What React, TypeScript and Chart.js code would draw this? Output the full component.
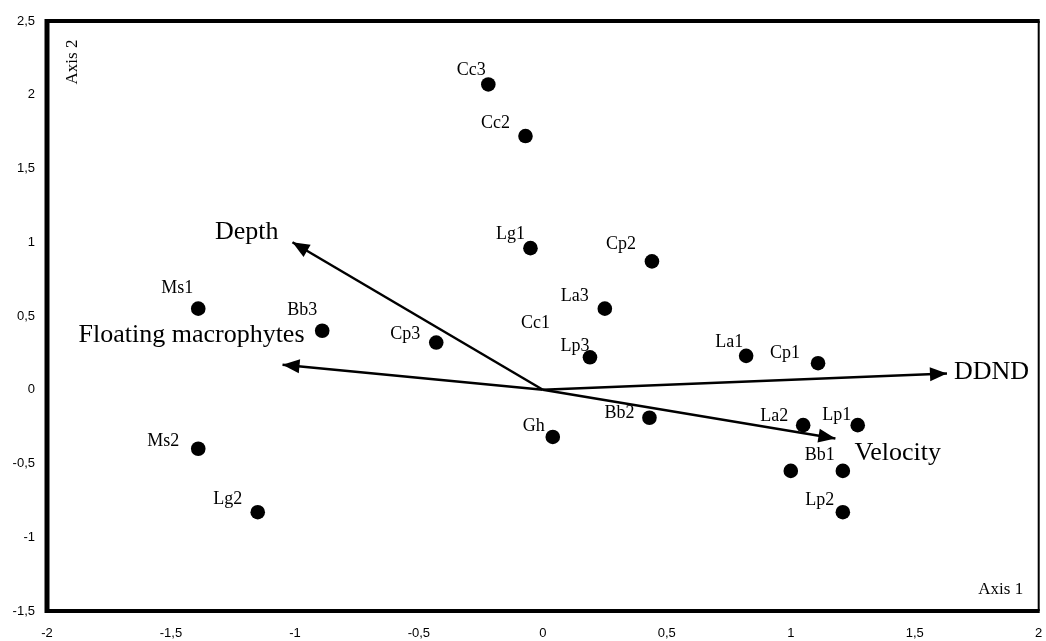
import React, { useEffect, useRef } from 'react';
import { Chart, registerables } from 'chart.js';

Chart.register(...registerables);

// Site scores (Axis 1, Axis 2)
const siteNames = ['Cc3', 'Cc2', 'Lg1', 'Cp2', 'La3', 'Cc1', 'Lp3', 'Ms1', 'Bb3', 'Cp3', 'La1', 'Cp1', 'La2', 'Lp1', 'Bb2', 'Gh', 'Ms2', 'Lg2', '', 'Bb1', 'Lp2'];
const siteAxis1 = [-0.22, -0.07, -0.05, 0.44, 0.25, -0.03, 0.19, -1.39, -0.89, -0.43, 0.82, 1.11, 1.05, 1.27, 0.43, 0.04, -1.39, -1.15, 1.0, 1.21, 1.21];
const siteAxis2 = [2.07, 1.72, 0.96, 0.87, 0.55, 0.45, 0.22, 0.55, 0.40, 0.32, 0.23, 0.18, -0.24, -0.24, -0.19, -0.32, -0.40, -0.83, -0.55, -0.55, -0.83];
// sites whose marker is not visible
const hiddenMarkers = ['Cc1'];
// label offsets from marker (px)
const siteLabelDx = [-17, -30, -20, -31, -30, 0, -15, -21, -20, -31, -17, -33, -29, -21, -30, -19, -35, -30, 0, -23, -23];
const siteLabelDy = [-14, -13, -14, -17, -12, 0, -11, -20, -20, -8, -14, -10, -9, -10, -5, -11, -7, -13, 0, -16, -12];

// Environmental variable vectors
const variableNames = ['Depth', 'Floating macrophytes', 'DDND', 'Velocity'];
const variableAxis1 = [-1.01, -1.05, 1.63, 1.18];
const variableAxis2 = [1.0, 0.17, 0.11, -0.33];
const variableLabelAlign: CanvasTextAlign[] = ['right', 'right', 'left', 'left'];
const variableLabelDx = [-14, 22, 7, 19];
const variableLabelDy = [-10, -30, -1, 15];

const xMin = -2, xMax = 2, yMin = -1.5, yMax = 2.5, tickStep = 0.5;

const fmt = (v: number) => String(Math.round(v * 100) / 100).replace('.', ',');

export default function App() {
  const ref = useRef<HTMLCanvasElement>(null);

  useEffect(() => {
    if (!ref.current) return;
    const siteData = siteNames.map((n, i) => ({ x: siteAxis1[i], y: siteAxis2[i] }));
    const vectorSets = variableNames.map((n, i) => ({
      type: 'line' as const,
      label: n,
      data: [{ x: 0, y: 0 }, { x: variableAxis1[i], y: variableAxis2[i] }],
      borderColor: '#000',
      borderWidth: 2.5,
      pointRadius: 0,
      showLine: true,
      fill: false,
      order: 2,
    }));

    const overlay = {
      id: 'overlay',
      afterDatasetsDraw(chart: any) {
        const ctx = chart.ctx as CanvasRenderingContext2D;
        const xs = chart.scales.x, ys = chart.scales.y;
        const ca = chart.chartArea;
        ctx.save();
        // arrowheads + variable labels
        variableNames.forEach((n, i) => {
          const x0 = xs.getPixelForValue(0), y0 = ys.getPixelForValue(0);
          const x1 = xs.getPixelForValue(variableAxis1[i]), y1 = ys.getPixelForValue(variableAxis2[i]);
          const ang = Math.atan2(y1 - y0, x1 - x0);
          const L = 17, W = 7;
          ctx.fillStyle = '#000';
          ctx.beginPath();
          ctx.moveTo(x1, y1);
          ctx.lineTo(x1 - L * Math.cos(ang) - W * Math.sin(ang), y1 - L * Math.sin(ang) + W * Math.cos(ang));
          ctx.lineTo(x1 - L * Math.cos(ang) + W * Math.sin(ang), y1 - L * Math.sin(ang) - W * Math.cos(ang));
          ctx.closePath();
          ctx.fill();
          ctx.font = '26px "Liberation Serif", "Times New Roman", serif';
          ctx.textAlign = variableLabelAlign[i];
          ctx.textBaseline = 'middle';
          ctx.fillText(n, x1 + variableLabelDx[i], y1 + variableLabelDy[i]);
        });
        // site labels
        ctx.font = '18px "Liberation Serif", "Times New Roman", serif';
        ctx.textAlign = 'center';
        ctx.textBaseline = 'middle';
        ctx.fillStyle = '#000';
        siteNames.forEach((n, i) => {
          if (!n) return;
          const px = xs.getPixelForValue(siteAxis1[i]);
          const py = ys.getPixelForValue(siteAxis2[i]);
          ctx.fillText(n, px + siteLabelDx[i], py + siteLabelDy[i]);
        });
        // axis titles
        ctx.font = '17px "Liberation Serif", "Times New Roman", serif';
        ctx.textAlign = 'center';
        ctx.fillText('Axis 1', ca.right - 38, ca.bottom - 21);
        ctx.save();
        ctx.translate(ca.left + 26, ca.top + 41);
        ctx.rotate(-Math.PI / 2);
        ctx.fillText('Axis 2', 0, 0);
        ctx.restore();
        // frame
        ctx.strokeStyle = '#000';
        ctx.lineWidth = 2;
        ctx.beginPath();
        ctx.moveTo(ca.right, ca.top);
        ctx.lineTo(ca.right, ca.bottom);
        ctx.stroke();
        ctx.lineWidth = 4;
        ctx.beginPath();
        ctx.moveTo(ca.left - 2, ca.top);
        ctx.lineTo(ca.right + 1, ca.top);
        ctx.stroke();
        ctx.beginPath();
        ctx.moveTo(ca.left - 2, ca.bottom);
        ctx.lineTo(ca.right + 1, ca.bottom);
        ctx.stroke();
        ctx.lineWidth = 5;
        ctx.beginPath();
        ctx.moveTo(ca.left, ca.top - 2);
        ctx.lineTo(ca.left, ca.bottom + 2);
        ctx.stroke();
        ctx.restore();
      },
    };

    const chart = new Chart(ref.current, {
      type: 'scatter',
      data: {
        datasets: [
          ...vectorSets,
          {
            type: 'scatter',
            label: 'Sites',
            data: siteData,
            backgroundColor: '#000',
            borderWidth: 0,
            pointRadius: siteNames.map((n) => (hiddenMarkers.includes(n) ? 0 : 7.3)),
            pointHoverRadius: siteNames.map((n) => (hiddenMarkers.includes(n) ? 0 : 7.3)),
            order: 1,
          } as any,
        ],
      },
      options: {
        responsive: false,
        animation: false,
        devicePixelRatio: 1,
        layout: { padding: { top: 21, right: 0, left: 0, bottom: 0 } },
        plugins: { legend: { display: false }, tooltip: { enabled: false }, title: { display: false } },
        scales: {
          x: {
            type: 'linear',
            min: xMin,
            max: xMax,
            grid: { display: false, drawTicks: false },
            border: { display: false },
            ticks: {
              stepSize: tickStep,
              padding: 15,
              color: '#000',
              font: { family: '"Liberation Sans", Arial, sans-serif', size: 13 },
              callback: (v: any) => fmt(Number(v)),
              maxRotation: 0,
              autoSkip: false,
            },
            afterFit: (s: any) => { s.height = 30; s.paddingLeft = 0; s.paddingRight = 0; },
          },
          y: {
            type: 'linear',
            min: yMin,
            max: yMax,
            grid: { display: false, drawTicks: false },
            border: { display: false },
            ticks: {
              stepSize: tickStep,
              padding: 12,
              color: '#000',
              font: { family: '"Liberation Sans", Arial, sans-serif', size: 13 },
              callback: (v: any) => fmt(Number(v)),
              autoSkip: false,
            },
            afterFit: (s: any) => { s.width = 47; s.paddingTop = 0; s.paddingBottom = 0; },
          },
        },
      },
      plugins: [overlay],
    } as any);
    return () => chart.destroy();
  }, []);

  return (
    <div style={{ position: 'absolute', left: 0, top: 0, width: 1046, height: 641, background: '#fff' }}>
      <canvas ref={ref} width={1046} height={641} style={{ display: 'block' }} />
    </div>
  );
}
